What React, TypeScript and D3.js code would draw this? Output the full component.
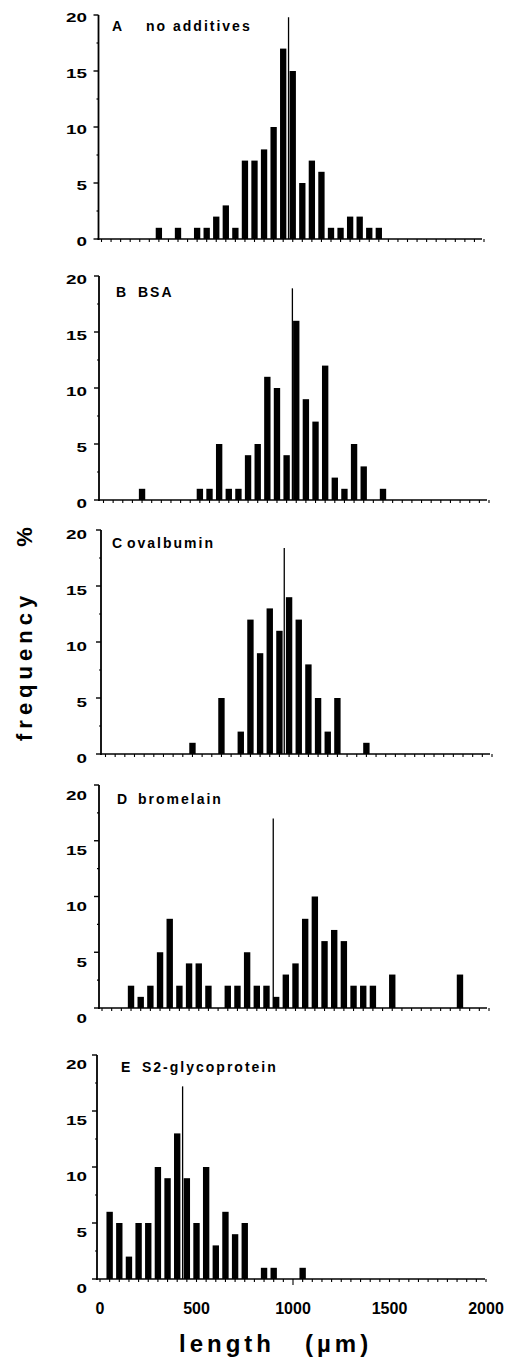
import * as d3 from "d3";

// x-axis tick values (µm) and y-axis tick values (%)
const X_TICKS = [0, 500, 1000, 1500, 2000];
const Y_TICKS = [0, 5, 10, 15, 20];

// A  no additives
const lengthsA = [300, 400, 500, 550, 600, 650, 700, 750, 800, 850, 900, 950, 1000, 1050, 1100, 1150, 1200, 1250, 1300, 1350, 1400, 1450];
const freqA = [1, 1, 1, 1, 2, 3, 1, 7, 7, 8, 10, 17, 15, 5, 7, 6, 1, 1, 2, 2, 1, 1];

// B  BSA
const lengthsB = [200, 500, 550, 600, 650, 700, 750, 800, 850, 900, 950, 1000, 1050, 1100, 1150, 1200, 1250, 1300, 1350, 1450];
const freqB = [1, 1, 1, 5, 1, 1, 4, 5, 11, 10, 4, 16, 9, 7, 12, 2, 1, 5, 3, 1];

// C  ovalbumin
const lengthsC = [450, 600, 700, 750, 800, 850, 900, 950, 1000, 1050, 1100, 1150, 1200, 1350];
const freqC = [1, 5, 2, 12, 9, 13, 11, 14, 12, 8, 5, 2, 5, 1];

// D  bromelain
const lengthsD = [150, 200, 250, 300, 350, 400, 450, 500, 550, 650, 700, 750, 800, 850, 900, 950, 1000, 1050, 1100, 1150, 1200, 1250, 1300, 1350, 1400, 1500, 1850];
const freqD = [2, 1, 2, 5, 8, 2, 4, 4, 2, 2, 2, 5, 2, 2, 1, 3, 4, 8, 10, 6, 7, 6, 2, 2, 2, 3, 3];

// E  S2-glycoprotein
const lengthsE = [50, 100, 150, 200, 250, 300, 350, 400, 450, 500, 550, 600, 650, 700, 750, 850, 900, 1050];
const freqE = [6, 5, 2, 5, 5, 10, 9, 13, 9, 5, 10, 3, 6, 4, 5, 1, 1, 1];

// mean length marker per panel (position and height of the thin line)
const meanLengths = [978, 980, 925, 885, 428];
const meanTops = [19.8, 18.9, 18.4, 17.0, 17.2];

const letters = ["A", "B", "C", "D", "E"];
const names = ["no additives", "BSA", "ovalbumin", "bromelain", "S2-glycoprotein"];

// page placement of each panel (scan is slightly uneven, so each has its own frame)
const frames = [
  { top: 15, bottom: 239, axisX: 98.5, x0: 101.5, x1: 484, axisEnd: 482, labelDy: 2, letterX: 112, nameX: 146, titleY: 31 },
  { top: 276, bottom: 500, axisX: 99, x0: 103.5, x1: 489, axisEnd: 487, labelDy: 3, letterX: 116, nameX: 138, titleY: 297 },
  { top: 530, bottom: 754, axisX: 101, x0: 105.5, x1: 492, axisEnd: 490, labelDy: 4, letterX: 112, nameX: 127, titleY: 548 },
  { top: 785, bottom: 1008, axisX: 99, x0: 102, x1: 489, axisEnd: 487, labelDy: 10, letterX: 117, nameX: 138, titleY: 804 },
  { top: 1055, bottom: 1279, axisX: 97, x0: 100, x1: 486, axisEnd: 485, labelDy: 9, letterX: 121, nameX: 142, titleY: 1072 },
];

const series = [
  [lengthsA, freqA],
  [lengthsB, freqB],
  [lengthsC, freqC],
  [lengthsD, freqD],
  [lengthsE, freqE],
];

const FONT = "'Liberation Sans', Arial, Helvetica, sans-serif";

function Panel({ i }: { i: number }) {
  const f = frames[i];
  const [lengths, freq] = series[i];
  const x = d3.scaleLinear().domain([0, 2000]).range([f.x0, f.x1]);
  const y = d3.scaleLinear().domain([0, 20]).range([f.bottom, f.top]);
  const bw = (x(50) - x(0)) * 0.66;
  const minorX = d3.range(0, 2001, 50);
  const minorY = d3.range(2.5, 20, 5);
  const last = i === frames.length - 1;

  return (
    <g>
      {/* bars */}
      {lengths.map((v, k) => (
        <rect
          key={k}
          x={x(v) - bw / 2}
          y={y(freq[k])}
          width={bw}
          height={y(0) - y(freq[k])}
          fill="#000"
        />
      ))}

      {/* mean marker */}
      <line
        x1={x(meanLengths[i])}
        x2={x(meanLengths[i])}
        y1={y(0)}
        y2={y(meanTops[i])}
        stroke="#000"
        strokeWidth={1.3}
      />

      {/* y axis */}
      <line x1={f.axisX} x2={f.axisX} y1={y(0) + 1} y2={y(20)} stroke="#000" strokeWidth={1.8} />
      {Y_TICKS.map((t) => (
        <line key={t} x1={f.axisX - 5} x2={f.axisX} y1={y(t)} y2={y(t)} stroke="#000" strokeWidth={1.4} />
      ))}
      {minorY.map((t) => (
        <line key={t} x1={f.axisX - 2} x2={f.axisX} y1={y(t)} y2={y(t)} stroke="#000" strokeWidth={1.2} />
      ))}
      {Y_TICKS.map((t) => (
        <text
          key={t}
          transform={`translate(87,${y(t) + f.labelDy}) scale(1.45,1)`}
          textAnchor="end"
          dy="0.36em"
          fontSize={13}
          fontWeight="bold"
          fontFamily={FONT}
        >
          {t}
        </text>
      ))}

      {/* x axis */}
      <line x1={f.axisX - 1} x2={f.axisEnd} y1={y(0)} y2={y(0)} stroke="#000" strokeWidth={1.6} />
      {minorX.map((t) => (
        <line
          key={t}
          x1={x(t)}
          x2={x(t)}
          y1={y(0)}
          y2={y(0) + (last && t === 1000 ? 6 : 3)}
          stroke="#000"
          strokeWidth={1.1}
        />
      ))}
      {last &&
        X_TICKS.map((t) => (
          <text
            key={t}
            x={x(t)}
            y={y(0) + 35}
            textAnchor="middle"
            fontSize={16}
            fontWeight="bold"
            fontFamily={FONT}
          >
            {t}
          </text>
        ))}

      {/* panel title */}
      <text x={f.letterX} y={f.titleY} fontSize={14} fontWeight="bold" fontFamily={FONT}>
        {letters[i]}
      </text>
      <text x={f.nameX} y={f.titleY} fontSize={14} fontWeight="bold" fontFamily={FONT} letterSpacing={2}>
        {names[i]}
      </text>
    </g>
  );
}

export default function App() {
  return (
    <div style={{ position: "absolute", left: 0, top: 0, background: "#fff" }}>
      <svg width={506} height={1360} viewBox="0 0 506 1360" style={{ display: "block" }}>
        <rect width={506} height={1360} fill="#fff" />
        {frames.map((_, i) => (
          <Panel key={i} i={i} />
        ))}

        {/* y axis title */}
        <text
          transform="translate(32,741) rotate(-90)"
          fontSize={22}
          fontWeight="bold"
          fontFamily={FONT}
          letterSpacing={5}
        >
          frequency
        </text>
        <text
          transform="translate(32,537) rotate(-90)"
          textAnchor="middle"
          fontSize={22}
          fontWeight="bold"
          fontFamily={FONT}
        >
          %
        </text>

        {/* x axis title */}
        <text x={179} y={1352} fontSize={24} fontWeight="bold" fontFamily={FONT} letterSpacing={4}>
          length
        </text>
        <text x={305} y={1352} fontSize={24} fontWeight="bold" fontFamily={FONT} letterSpacing={4}>
          (µm)
        </text>
      </svg>
    </div>
  );
}
